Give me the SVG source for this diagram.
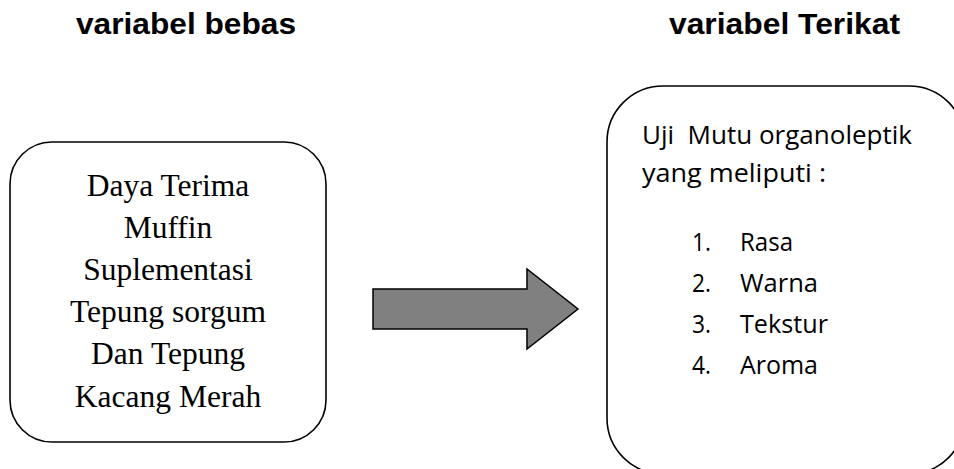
<svg xmlns="http://www.w3.org/2000/svg" width="954" height="469" viewBox="0 0 954 469">
<style>
.title{font-family:"Liberation Sans",Arial,sans-serif;font-weight:bold;font-size:29px;fill:#000}
.serif{font-family:"Liberation Serif","Times New Roman",serif;font-size:31.5px;fill:#000;text-anchor:middle}
.sans{font-family:"Open Sans","Liberation Sans",sans-serif;font-size:25.5px;fill:#000}
.box{fill:#fff;stroke:#000;stroke-width:1.6}
</style>
<rect width="954" height="469" fill="#fff"/>
<g id="title-left"><text class="title" x="76" y="34" textLength="220" lengthAdjust="spacingAndGlyphs">variabel bebas</text></g>
<g id="title-right"><text class="title" x="669" y="34" textLength="231" lengthAdjust="spacingAndGlyphs">variabel Terikat</text></g>
<g id="node-left">
<rect class="box" x="10" y="142" width="316" height="300" rx="42" ry="42"/>
<text class="serif" x="168" y="196">Daya Terima</text>
<text class="serif" x="168" y="238">Muffin</text>
<text class="serif" x="168" y="280">Suplementasi</text>
<text class="serif" x="168" y="322">Tepung sorgum</text>
<text class="serif" x="168" y="364">Dan Tepung</text>
<text class="serif" x="168" y="407">Kacang Merah</text>
</g>
<g id="node-right">
<rect class="box" x="607" y="86" width="358" height="388" rx="56" ry="56"/>
<text class="sans" x="642" y="144" textLength="270" lengthAdjust="spacingAndGlyphs">Uji&#160; Mutu organoleptik</text>
<text class="sans" x="642" y="182" textLength="184" lengthAdjust="spacingAndGlyphs">yang meliputi :</text>
<text class="sans" x="692" y="251" textLength="19" lengthAdjust="spacingAndGlyphs">1.</text><text class="sans" x="740" y="251" textLength="53" lengthAdjust="spacingAndGlyphs">Rasa</text>
<text class="sans" x="692" y="292" textLength="19" lengthAdjust="spacingAndGlyphs">2.</text><text class="sans" x="740" y="292" textLength="78" lengthAdjust="spacingAndGlyphs">Warna</text>
<text class="sans" x="692" y="333" textLength="19" lengthAdjust="spacingAndGlyphs">3.</text><text class="sans" x="740" y="333" textLength="88" lengthAdjust="spacingAndGlyphs">Tekstur</text>
<text class="sans" x="692" y="374" textLength="19" lengthAdjust="spacingAndGlyphs">4.</text><text class="sans" x="740" y="374" textLength="78" lengthAdjust="spacingAndGlyphs">Aroma</text>
</g>
<g id="connectors">
<polygon points="373,289 527,289 527,269 578,309 527,349 527,329 373,329" fill="#808080" stroke="#000" stroke-width="1.5" stroke-linejoin="miter"/>
</g>
</svg>
